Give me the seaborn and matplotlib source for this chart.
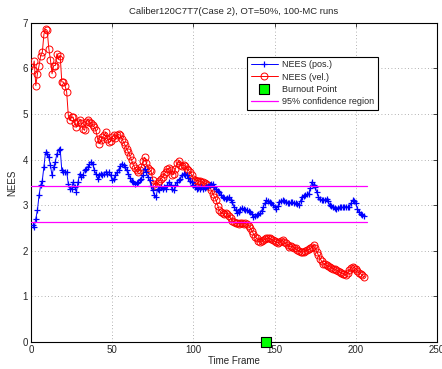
import numpy as np
import pandas as pd
import matplotlib
matplotlib.use("Agg")
import matplotlib.pyplot as plt
import seaborn as sns

# NEES of position estimates per time frame
nees_pos = [
    2.56, 2.52, 2.70, 2.89, 3.22, 3.44, 3.54, 3.84, 4.16, 4.13,
    4.05, 3.87, 3.65, 3.84, 3.95, 4.13, 4.20, 4.24, 3.76, 3.73,
    3.73, 3.73, 3.47, 3.36, 3.36, 3.51, 3.40, 3.29, 3.51, 3.69,
    3.62, 3.65, 3.76, 3.80, 3.84, 3.91, 3.95, 3.91, 3.76, 3.69,
    3.58, 3.65, 3.69, 3.65, 3.69, 3.73, 3.69, 3.73, 3.65, 3.56,
    3.58, 3.65, 3.72, 3.78, 3.86, 3.91, 3.88, 3.84, 3.76, 3.69,
    3.60, 3.54, 3.50, 3.47, 3.49, 3.51, 3.55, 3.58, 3.66, 3.80,
    3.72, 3.62, 3.55, 3.43, 3.33, 3.22, 3.18, 3.36, 3.33, 3.40,
    3.36, 3.40, 3.36, 3.44, 3.51, 3.45, 3.36, 3.33, 3.44, 3.51,
    3.55, 3.58, 3.65, 3.69, 3.67, 3.65, 3.60, 3.54, 3.50, 3.44,
    3.40, 3.36, 3.38, 3.36, 3.40, 3.36, 3.38, 3.40, 3.42, 3.44,
    3.46, 3.47, 3.40, 3.36, 3.32, 3.29, 3.22, 3.18, 3.16, 3.14,
    3.16, 3.18, 3.12, 3.07, 2.96, 2.89, 2.82, 2.86, 2.92, 2.94,
    2.92, 2.90, 2.89, 2.87, 2.85, 2.80, 2.74, 2.76, 2.78, 2.80,
    2.82, 2.88, 2.96, 3.04, 3.11, 3.09, 3.07, 3.04, 3.00, 2.96,
    2.92, 2.98, 3.07, 3.09, 3.11, 3.08, 3.07, 3.05, 3.04, 3.06,
    3.07, 3.05, 3.04, 3.02, 3.00, 3.10, 3.18, 3.20, 3.22, 3.24,
    3.25, 3.38, 3.51, 3.45, 3.40, 3.28, 3.18, 3.14, 3.11, 3.11,
    3.12, 3.14, 3.08, 3.00, 2.98, 2.96, 2.94, 2.92, 2.94, 2.96,
    2.96, 2.95, 2.96, 2.97, 2.96, 2.96, 3.04, 3.11, 3.08, 3.04,
    2.92, 2.85, 2.80, 2.78, 2.76,
]

# NEES of velocity estimates per time frame
nees_vel = [
    5.97, 6.16, 5.62, 5.88, 6.06, 6.28, 6.35, 6.75, 6.86, 6.83,
    6.43, 6.19, 5.88, 6.06, 6.06, 6.32, 6.21, 6.28, 5.70, 5.70,
    5.62, 5.48, 4.97, 4.86, 4.93, 4.93, 4.79, 4.71, 4.82, 4.86,
    4.79, 4.68, 4.64, 4.82, 4.86, 4.82, 4.79, 4.75, 4.71, 4.64,
    4.46, 4.35, 4.42, 4.49, 4.53, 4.60, 4.46, 4.38, 4.40, 4.50,
    4.53, 4.48, 4.53, 4.55, 4.53, 4.46, 4.38, 4.31, 4.23, 4.16,
    4.07, 3.98, 3.89, 3.81, 3.76, 3.73, 3.77, 3.84, 3.97, 4.05,
    3.93, 3.82, 3.78, 3.74, 3.56, 3.47, 3.43, 3.49, 3.54, 3.58,
    3.62, 3.68, 3.73, 3.80, 3.81, 3.77, 3.66, 3.68, 3.80, 3.93,
    3.97, 3.89, 3.86, 3.88, 3.85, 3.80, 3.76, 3.72, 3.66, 3.58,
    3.56, 3.54, 3.54, 3.52, 3.51, 3.50, 3.48, 3.47, 3.44, 3.40,
    3.33, 3.25, 3.18, 3.11, 2.99, 2.89, 2.84, 2.82, 2.80, 2.83,
    2.81, 2.76, 2.71, 2.66, 2.62, 2.60, 2.61, 2.59, 2.60, 2.61,
    2.59, 2.60, 2.58, 2.55, 2.50, 2.44, 2.37, 2.31, 2.27, 2.21,
    2.19, 2.21, 2.23, 2.25, 2.27, 2.28, 2.27, 2.25, 2.23, 2.21,
    2.19, 2.18, 2.19, 2.21, 2.23, 2.19, 2.16, 2.12, 2.09, 2.10,
    2.09, 2.07, 2.05, 2.02, 1.99, 1.98, 1.97, 1.98, 2.00, 2.01,
    2.03, 2.05, 2.09, 2.12, 2.05, 1.98, 1.90, 1.83, 1.77, 1.72,
    1.70, 1.68, 1.66, 1.65, 1.63, 1.61, 1.60, 1.58, 1.56, 1.54,
    1.52, 1.50, 1.49, 1.47, 1.52, 1.58, 1.62, 1.65, 1.63, 1.61,
    1.56, 1.52, 1.50, 1.46, 1.43,
]

frames = list(range(1, len(nees_pos) + 1))

# burnout point and 95% confidence bounds
burnout_frame = [145]
burnout_value = [0]
conf_lower = 2.62
conf_upper = 3.43
conf_span = [0, 207]

x_ticks = [0, 50, 100, 150, 200, 250]
y_ticks = [0, 1, 2, 3, 4, 5, 6, 7]

sns.set_style("white")
plt.rcParams["font.family"] = ["Liberation Sans", "DejaVu Sans"]

fig = plt.figure(figsize=(4.42, 3.69), dpi=100)
ax = fig.add_axes([0.070, 0.0732, 0.9187, 0.8653])

df = pd.DataFrame({"frame": frames, "pos": nees_pos, "vel": nees_vel})

sns.lineplot(data=df, x="frame", y="vel", ax=ax, color="#ff0000", lw=0.7,
             marker="o", markersize=5, markerfacecolor="none",
             markeredgecolor="#ff0000", markeredgewidth=0.7,
             label="NEES (vel.)", zorder=3)
sns.lineplot(data=df, x="frame", y="pos", ax=ax, color="#0000ff", lw=0.7,
             marker="+", markersize=5, markeredgecolor="#0000ff",
             markeredgewidth=0.9, label="NEES (pos.)", zorder=4)
for bound in (conf_lower, conf_upper):
    sns.lineplot(x=conf_span, y=[bound, bound], ax=ax, color="#ff00ff",
                 lw=0.9, label="95% confidence region", zorder=5)
sns.scatterplot(x=burnout_frame, y=burnout_value, ax=ax, marker="s", s=45,
                color="#00ff00", edgecolor="black", linewidth=0.8,
                label="Burnout Point", zorder=6, clip_on=False)

ax.set_xlim(0, 250)
ax.set_ylim(0, 7)
ax.set_xticks(x_ticks)
ax.set_yticks(y_ticks)
ax.tick_params(direction="in", length=3, width=0.6, labelsize=7,
               top=True, right=True, pad=2)
ax.grid(True, linestyle=(0, (1, 3)), color="#999999", lw=0.6)
for s in ax.spines.values():
    s.set_linewidth(0.8)
    s.set_color("black")

ax.set_xlabel("Time Frame", fontsize=7, labelpad=1)
ax.set_ylabel("NEES", fontsize=7, labelpad=4)
ax.set_title("Caliber120C7T7(Case 2), OT=50%, 100-MC runs", fontsize=6.8, pad=6)

handles, labels = ax.get_legend_handles_labels()
lookup = {}
for h, l in zip(handles, labels):
    lookup.setdefault(l, h)
order = ["NEES (pos.)", "NEES (vel.)", "Burnout Point", "95% confidence region"]
leg = ax.legend([lookup[k] for k in order], order, loc="upper left",
                bbox_to_anchor=(0.532, 0.893), fontsize=6.5, frameon=True,
                fancybox=False, edgecolor="black", framealpha=1,
                borderpad=0.4, labelspacing=0.35, handlelength=3.0,
                handletextpad=0.5, borderaxespad=0)
leg.get_frame().set_linewidth(0.8)

fig.savefig("out.png", dpi=100)
